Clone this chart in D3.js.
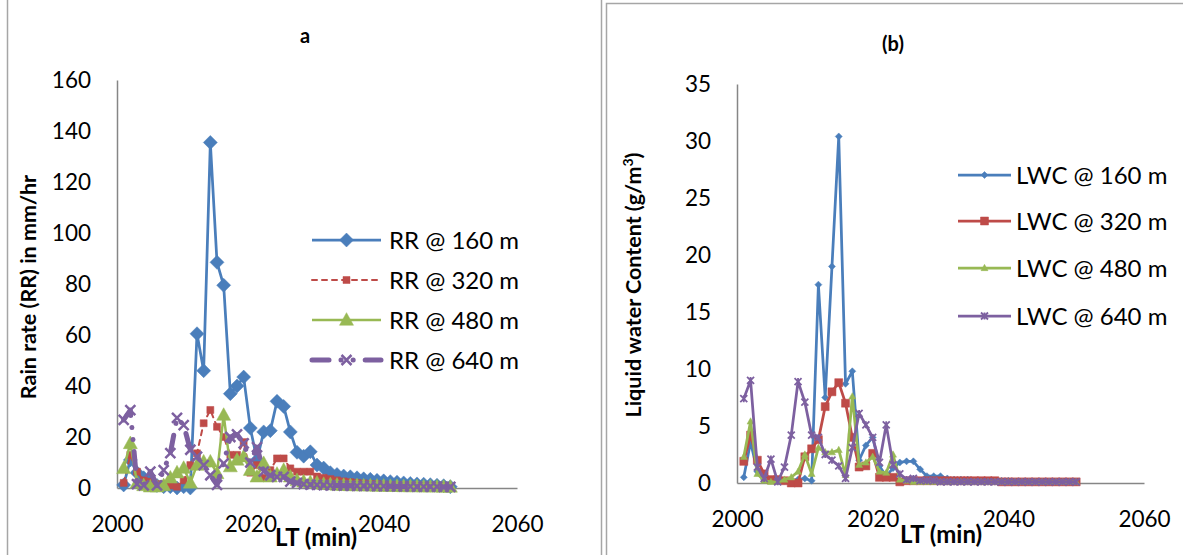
<!DOCTYPE html>
<html>
<head>
<meta charset="utf-8">
<script src="https://cdn.jsdelivr.net/npm/d3@7"></script>
<style>
  body { margin: 0; background: #fff; }
  text { font-family: Lato, "Open Sans", sans-serif; fill: #000; }
</style>
</head>
<body>
<div id="chart"></div>
<script>
const WIDTH = 1183, HEIGHT = 555;

// DATA
const minutes = [2001, 2002, 2003, 2004, 2005, 2006, 2007, 2008, 2009, 2010,
  2011, 2012, 2013, 2014, 2015, 2016, 2017, 2018, 2019, 2020,
  2021, 2022, 2023, 2024, 2025, 2026, 2027, 2028, 2029, 2030,
  2031, 2032, 2033, 2034, 2035, 2036, 2037, 2038, 2039, 2040,
  2041, 2042, 2043, 2044, 2045, 2046, 2047, 2048, 2049, 2050];

const rr160 = [1.2, 11, 6, 4, 3, 1, 0.5, 0.5, 0, 0.5,
  0, 60.5, 46, 135.5, 88.5, 79.5, 37, 40, 43.5, 23.5,
  11, 22, 22.5, 34, 32, 22, 14, 12.5, 14.2, 9,
  7.8, 6, 5.3, 4.7, 4.4, 4, 3.6, 3.4, 3, 2.8,
  2.5, 2.3, 2, 1.8, 1.6, 1.5, 1.3, 1.1, 0.9, 0.5];
const rr320 = [2, 13, 6.4, 3, 2.5, 1.5, 1.5, 1, 0.5, 3,
  9, 13.6, 25.4, 30.6, 24, 20, 13, 13, 18, 6,
  9, 4, 7, 11.6, 11.6, 7.7, 6.4, 6.4, 6.4, 4.5,
  4, 3.5, 3, 2.6, 2.3, 2, 1.8, 1.6, 1.5, 1.3,
  1.2, 1.1, 1, 0.9, 0.8, 0.8, 0.7, 0.6, 0.6, 0.5];
const rr480 = [7.7, 17.5, 2, 1, 0.5, 0.5, 1, 4, 6, 7.8,
  2, 9, 10.3, 10.3, 5.7, 28.6, 8.4, 11, 12.3, 7,
  4.4, 9.7, 4.4, 5.5, 7, 4.4, 3, 2.5, 2.2, 2,
  1.5, 1.4, 1.2, 1.1, 1, 1, 0.9, 0.9, 0.8, 0.8,
  0.7, 0.7, 0.6, 0.6, 0.6, 0.5, 0.5, 0.5, 0.4, 0.4];
const rr640 = [26.7, 30.5, 1.5, 1, 6.4, 1, 7, 13.7, 27.5, 24.7,
  15, 12.3, 9, 5, 1.2, 9.7, 20, 21, 17.5, 10,
  16, 6.4, 5, 4.4, 4.4, 2.5, 2, 1.5, 1.3, 1.2,
  1.1, 1, 1, 0.9, 0.9, 0.8, 0.8, 0.8, 0.7, 0.7,
  0.7, 0.6, 0.6, 0.6, 0.5, 0.5, 0.5, 0.5, 0.4, 0.4];

const lwc160 = [0.5, 3.6, 1, 0.3, 0.2, 0.2, 0.2, 0.2, 0.3, 0.4,
  0.2, 17.4, 7.5, 19, 30.4, 8.7, 9.8, 2, 3.3, 4,
  1.5, 0.6, 1.3, 1.8, 1.9, 1.9, 1.2, 0.6, 0.6, 0.6,
  0.4, 0.3, 0.3, 0.3, 0.2, 0.2, 0.2, 0.2, 0.2, 0.2,
  0.1, 0.1, 0.1, 0.1, 0.1, 0.1, 0.1, 0.1, 0.1, 0.1];
const lwc320 = [1.9, 4.2, 2, 0.8, 0.3, 0.3, 0.2, 0, 0, 2.3,
  3, 3.8, 6.7, 8, 8.8, 7, 4, 1.4, 1.5, 2.6,
  0.5, 0.5, 0.5, 0.1, 0.2, 0.2, 0.2, 0.2, 0.2, 0.2,
  0.2, 0.2, 0.2, 0.2, 0.2, 0.2, 0.2, 0.2, 0.1, 0.1,
  0.1, 0.1, 0.1, 0.1, 0.1, 0.1, 0.1, 0.1, 0.1, 0.1];
const lwc480 = [2.3, 5.4, 0.8, 0.2, 0.1, 0.1, 0.3, 0.5, 1, 2.5,
  0.8, 3.1, 2.7, 2.7, 2.9, 0.7, 7.6, 1.6, 1.8, 2.3,
  1, 0.9, 2.5, 0.3, 0.2, 0.1, 0.1, 0.1, 0.1, 0.1,
  0.1, 0.1, 0.1, 0.1, 0.1, 0.1, 0.1, 0.1, 0.1, 0.1,
  0.1, 0.1, 0.1, 0.1, 0.1, 0.1, 0.1, 0.1, 0.1, 0.1];
const lwc640 = [7.4, 9, 1.4, 0.4, 2.1, 0.1, 1.4, 4.2, 8.9, 7.1,
  4.2, 4, 2.5, 2, 1.5, 0.4, 3.1, 6.1, 5.1, 4,
  1.8, 5.1, 1.6, 0.8, 0.3, 0.4, 0.2, 0.2, 0.2, 0.1,
  0.1, 0.1, 0.1, 0.1, 0.1, 0.1, 0.1, 0.1, 0.1, 0.1,
  0.1, 0.1, 0.1, 0.1, 0.1, 0.1, 0.1, 0.1, 0.1, 0.1];

const xTicks = [2000, 2020, 2040, 2060];
const yTicksA = [0, 20, 40, 60, 80, 100, 120, 140, 160];
const yTicksB = [0, 5, 10, 15, 20, 25, 30, 35];
const namesA = ["RR @ 160 m", "RR @ 320 m", "RR @ 480 m", "RR @ 640 m"];
const namesB = ["LWC @ 160 m", "LWC @ 320 m", "LWC @ 480 m", "LWC @ 640 m"];

const COLORS = ["#4a7ebb", "#be4b48", "#98b954", "#7d60a0"];
const AXIS_COLOR = "#868686";

const svg = d3.select("#chart")
  .append("svg")
  .attr("width", WIDTH)
  .attr("height", HEIGHT);

// FRAMES
svg.append("line").attr("x1", 7.5).attr("x2", 7.5).attr("y1", 0).attr("y2", HEIGHT)
  .attr("stroke", "#a6a6a6").attr("stroke-width", 1.5);
svg.append("line").attr("x1", 601.5).attr("x2", 601.5).attr("y1", 0).attr("y2", HEIGHT)
  .attr("stroke", "#a6a6a6").attr("stroke-width", 1.5);
svg.append("rect").attr("x", 606.5).attr("y", 3.5).attr("width", 600).attr("height", 600)
  .attr("fill", "none").attr("stroke", "#a6a6a6").attr("stroke-width", 1.5);

// marker shapes
function markerPath(kind, s) {
  const h = s / 2;
  if (kind === "diamond") return `M0,${-h}L${h},0L0,${h}L${-h},0Z`;
  if (kind === "square") return `M${-h},${-h}H${h}V${h}H${-h}Z`;
  if (kind === "triangle") return `M0,${-h * 1.05}L${h},${h * 0.75}L${-h},${h * 0.75}Z`;
  if (kind === "x") return `M${-h},${-h}L${h},${h}M${-h},${h}L${h},${-h}`;
  if (kind === "star") return `M${-h},${-h}L${h},${h}M${-h},${h}L${h},${-h}M0,${-h}V${h}`;
  return "";
}

function drawPanel(cfg) {
  const x = d3.scaleLinear().domain([2000, 2060]).range(cfg.xRange);
  const y = d3.scaleLinear().domain(cfg.yDomain).range(cfg.yRange);

  const g = svg.append("g");

  // AXIS
  const xAxis = g.append("g")
    .attr("transform", `translate(0, ${cfg.yRange[0]})`)
    .call(d3.axisBottom(x).tickValues(xTicks).tickFormat(d3.format("d"))
      .tickSize(0).tickSizeOuter(0).tickPadding(28));
  const yAxis = g.append("g")
    .attr("transform", `translate(${cfg.xRange[0]}, 0)`)
    .call(d3.axisLeft(y).tickValues(cfg.yTicks).tickSize(0).tickSizeOuter(0).tickPadding(26));
  [xAxis, yAxis].forEach((a) => {
    a.select(".domain").attr("stroke", AXIS_COLOR).attr("stroke-width", 1.5);
    a.selectAll(".tick text")
      .attr("font-family", "Lato, 'Open Sans', sans-serif")
      .attr("font-size", 22.5)
      .attr("fill", "#000");
  });

  // LINES
  cfg.series.forEach((s, i) => {
    const pts = minutes.map((m, j) => [m, s.values[j]]);
    const line = d3.line().x((d) => x(d[0])).y((d) => y(d[1]));
    g.append("path")
      .datum(pts)
      .attr("fill", "none")
      .attr("stroke", COLORS[i])
      .attr("stroke-width", s.width)
      .attr("stroke-linejoin", "round")
      .attr("stroke-linecap", s.dash ? "round" : "butt")
      .attr("stroke-dasharray", s.dash || null)
      .attr("d", line);
    g.append("g")
      .selectAll("path")
      .data(pts)
      .join("path")
      .attr("transform", (d) => `translate(${x(d[0])}, ${y(d[1])})`)
      .attr("d", markerPath(s.marker, s.size))
      .attr("fill", s.stroked ? "none" : COLORS[i])
      .attr("stroke", COLORS[i])
      .attr("stroke-width", s.stroked ? s.mw : 0.5);
  });

  // LEGEND
  const lg = g.append("g");
  cfg.series.forEach((s, i) => {
    const ly = cfg.legend.y[i];
    lg.append("line")
      .attr("x1", cfg.legend.x1).attr("x2", cfg.legend.x2)
      .attr("y1", ly).attr("y2", ly)
      .attr("stroke", COLORS[i])
      .attr("stroke-width", s.legendWidth || s.width)
      .attr("stroke-linecap", s.dash ? "round" : "butt")
      .attr("stroke-dasharray", s.dash || null);
    lg.append("path")
      .attr("transform", `translate(${(cfg.legend.x1 + cfg.legend.x2) / 2}, ${ly})`)
      .attr("d", markerPath(s.marker, s.size))
      .attr("fill", s.stroked ? "none" : COLORS[i])
      .attr("stroke", COLORS[i])
      .attr("stroke-width", s.stroked ? s.mw : 0.5);
    lg.append("text")
      .attr("x", cfg.legend.tx)
      .attr("y", ly)
      .attr("dy", "0.36em")
      .attr("font-size", 24)
      .text(cfg.names[i]);
  });

  // TITLES
  g.append("text")
    .attr("x", cfg.title.x).attr("y", cfg.title.y)
    .attr("text-anchor", "middle")
    .attr("font-weight", "bold")
    .attr("font-size", 20)
    .text(cfg.title.text);
  g.append("text")
    .attr("x", cfg.xLabel.x).attr("y", cfg.xLabel.y)
    .attr("text-anchor", "middle")
    .attr("font-weight", "bold")
    .attr("font-size", 24)
    .text("LT (min)");
  const yl = g.append("text")
    .attr("transform", `translate(${cfg.yLabel.x}, ${cfg.yLabel.y}) rotate(-90)`)
    .attr("text-anchor", "middle")
    .attr("font-weight", "bold")
    .attr("font-size", 21.5);
  cfg.yLabel.parts.forEach((p) => {
    yl.append("tspan")
      .attr("baseline-shift", p.sup ? "super" : null)
      .attr("font-size", p.sup ? 14 : null)
      .text(p.t);
  });
}

drawPanel({
  xRange: [117, 517],
  yDomain: [0, 160],
  yRange: [488, 80],
  yTicks: yTicksA,
  names: namesA,
  series: [
    { values: rr160, width: 2.75, marker: "diamond", size: 14 },
    { values: rr320, width: 2, marker: "square", size: 7, dash: "5 5", legendWidth: 2 },
    { values: rr480, width: 2.5, marker: "triangle", size: 14 },
    { values: rr640, width: 5, marker: "x", size: 10, stroked: true, mw: 2.5, dash: "17 12 0.1 12 0.1 12" }
  ],
  legend: { x1: 312, x2: 381, tx: 389, y: [240, 280, 320, 360] },
  title: { text: "a", x: 305, y: 43 },
  xLabel: { x: 316, y: 546 },
  yLabel: { x: 36, y: 287, parts: [{ t: "Rain rate (RR) in mm/hr" }] }
});

drawPanel({
  xRange: [737, 1144],
  yDomain: [0, 35],
  yRange: [483, 84],
  yTicks: yTicksB,
  names: namesB,
  series: [
    { values: lwc160, width: 2.75, marker: "diamond", size: 7 },
    { values: lwc320, width: 2.75, marker: "square", size: 8 },
    { values: lwc480, width: 2.75, marker: "triangle", size: 7 },
    { values: lwc640, width: 2.75, marker: "star", size: 7, stroked: true, mw: 1.8 }
  ],
  legend: { x1: 958, x2: 1011, tx: 1016, y: [175, 221, 268, 316] },
  title: { text: "(b)", x: 893, y: 51 },
  xLabel: { x: 941, y: 543 },
  yLabel: { x: 641, y: 285, parts: [{ t: "Liquid water Content (g/m" }, { t: "3", sup: true }, { t: ")" }] }
});
</script>
</body>
</html>
